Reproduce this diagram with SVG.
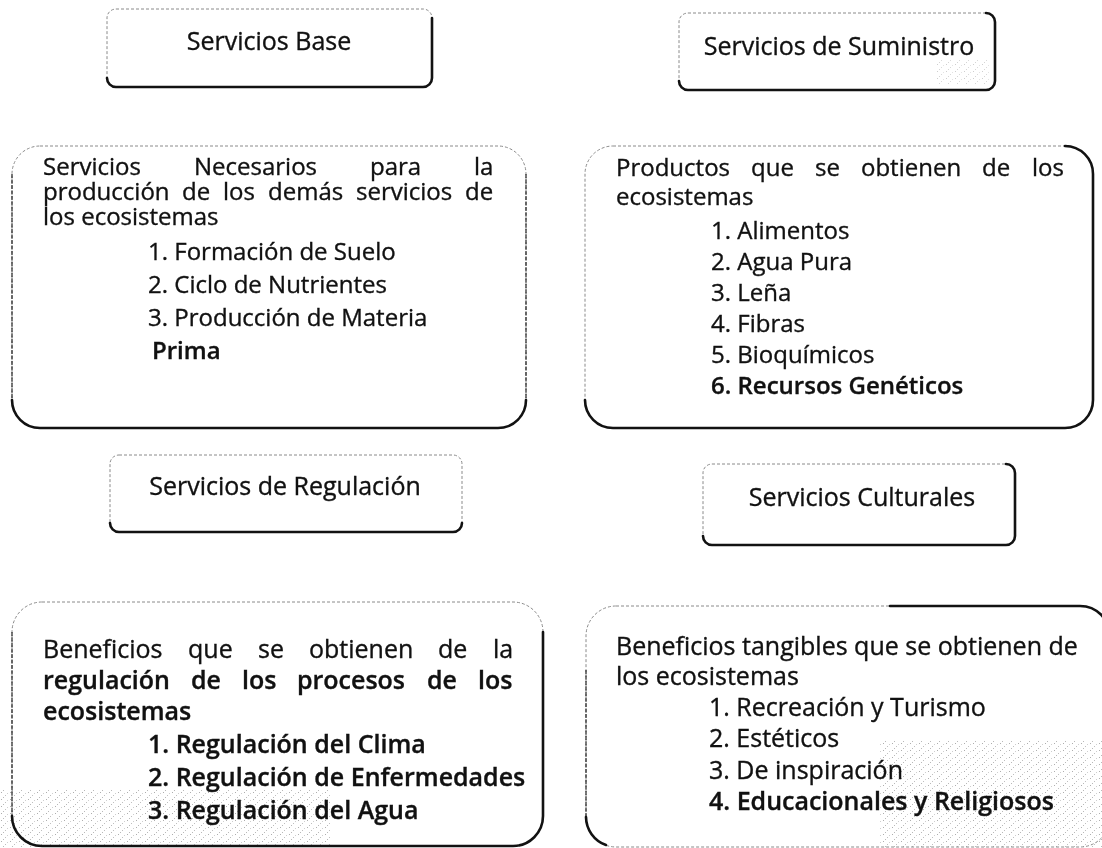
<svg xmlns="http://www.w3.org/2000/svg" width="1102" height="848" viewBox="0 0 1102 848">
<defs>
<style>
.t{font-family:"Open Sans","DejaVu Sans",sans-serif;fill:#111;stroke:#111;stroke-width:0.35}
.h{font-size:25px;text-anchor:middle}
.b{font-size:24px}
.b2{font-size:25px}
.sb{font-weight:600}
.frame{fill:none;stroke:#8a8a8a;stroke-width:1;stroke-dasharray:3 2}
.shadow{fill:none;stroke:#121212;stroke-width:2.6;stroke-linejoin:round;stroke-linecap:round}
.mid{fill:none;stroke:#333;stroke-width:1.3;stroke-dasharray:4 1.5}
</style>
<pattern id="speck" width="9" height="7" patternUnits="userSpaceOnUse">
<rect x="1" y="1" width="1" height="1" fill="#9a9a9a"/>
<rect x="5" y="4" width="1" height="1" fill="#b0b0b0"/>
<rect x="7" y="2" width="1" height="1" fill="#c4c4c4"/>
<rect x="3" y="6" width="1" height="1" fill="#a8a8a8"/>
</pattern>
</defs>
<rect width="1102" height="848" fill="#ffffff"/>
<g id="texture" opacity="0.8">
<rect x="0" y="790" width="330" height="58" fill="url(#speck)"/>
<rect x="880" y="740" width="222" height="108" fill="url(#speck)"/>
<rect x="935" y="60" width="55" height="25" fill="url(#speck)" opacity="0.6"/>
</g>
<g id="connectors"></g>

<g id="node-servicios-base">
<rect class="frame" x="107" y="9" width="325" height="78" rx="9"/>
<path class="shadow" d="M432,18 V78 A9 9 0 0 1 423,87 H116 A9 9 0 0 1 107,78"/>
<text class="t h" x="269" y="50">Servicios Base</text>
</g>

<g id="node-servicios-suministro">
<rect class="frame" x="679" y="13" width="316" height="77" rx="9"/>
<path class="shadow" d="M986,13 A9 9 0 0 1 995,22 V81 A9 9 0 0 1 986,90 H688 A9 9 0 0 1 679,81"/>
<text class="t h" x="839" y="55">Servicios de Suministro</text>
</g>

<g id="node-base-detalle">
<rect class="frame" x="12" y="146" width="514" height="282" rx="28" stroke="#b5b5b5"/>
<path class="mid" d="M12,174 V400"/>
<path class="mid" d="M526,174 V400"/>
<path class="shadow" d="M526,400 A28 28 0 0 1 498,428 H40 A28 28 0 0 1 12,400"/>
<text class="t b"><tspan x="43" y="175">Servicios</tspan><tspan x="194" y="175">Necesarios</tspan><tspan x="370" y="175">para</tspan><tspan x="474" y="175">la</tspan><tspan x="43" y="200">producción</tspan><tspan x="182" y="200">de</tspan><tspan x="223" y="200">los</tspan><tspan x="268" y="200">demás</tspan><tspan x="356" y="200">servicios</tspan><tspan x="465" y="200">de</tspan><tspan x="43" y="225">los ecosistemas</tspan><tspan x="148" y="260">1. Formación de Suelo</tspan><tspan x="148" y="293">2. Ciclo de Nutrientes</tspan><tspan x="148" y="326">3. Producción de Materia</tspan><tspan class="sb" x="152" y="359">Prima</tspan></text>
</g>

<g id="node-suministro-detalle">
<rect class="frame" x="585" y="146" width="508" height="282" rx="28" stroke-dasharray="1.5 3"/>
<path class="shadow" d="M1065,146 A28 28 0 0 1 1093,174 V400 A28 28 0 0 1 1065,428 H613 A28 28 0 0 1 585,400"/>
<text class="t b"><tspan x="616" y="176">Productos</tspan><tspan x="751" y="176">que</tspan><tspan x="815" y="176">se</tspan><tspan x="861" y="176">obtienen</tspan><tspan x="982" y="176">de</tspan><tspan x="1032" y="176">los</tspan><tspan x="616" y="205">ecosistemas</tspan><tspan x="711" y="239">1. Alimentos</tspan><tspan x="711" y="270">2. Agua Pura</tspan><tspan x="711" y="301">3. Leña</tspan><tspan x="711" y="332">4. Fibras</tspan><tspan x="711" y="363">5. Bioquímicos</tspan><tspan class="sb" x="711" y="394">6. Recursos Genéticos</tspan></text>
</g>

<g id="node-servicios-regulacion">
<rect class="frame" x="110" y="455" width="352" height="77" rx="9"/>
<path class="shadow" d="M462,523 A9 9 0 0 1 453,532 H119 A9 9 0 0 1 110,523"/>
<text class="t h" x="285" y="495">Servicios de Regulación</text>
</g>

<g id="node-servicios-culturales">
<rect class="frame" x="703" y="464" width="312" height="81" rx="9" stroke-dasharray="2 3"/>
<path class="shadow" d="M1006,464 A9 9 0 0 1 1015,473 V536 A9 9 0 0 1 1006,545 H712 A9 9 0 0 1 703,536"/>
<text class="t h" x="862" y="506">Servicios Culturales</text>
</g>

<g id="node-regulacion-detalle">
<rect class="frame" x="12" y="602" width="531" height="244" rx="30" stroke-dasharray="2 3"/>
<path class="mid" d="M12,632 V816"/>
<path class="shadow" d="M543,632 V816 A30 30 0 0 1 513,846 H42 A30 30 0 0 1 12,816"/>
<text class="t b2"><tspan x="43" y="658">Beneficios</tspan><tspan x="188" y="658">que</tspan><tspan x="258" y="658">se</tspan><tspan x="309" y="658">obtienen</tspan><tspan x="438" y="658">de</tspan><tspan x="493" y="658">la</tspan><tspan class="sb" x="43" y="689">regulación</tspan><tspan class="sb" x="191" y="689">de</tspan><tspan class="sb" x="242" y="689">los</tspan><tspan class="sb" x="297" y="689">procesos</tspan><tspan class="sb" x="427" y="689">de</tspan><tspan class="sb" x="478" y="689">los</tspan><tspan class="sb" x="43" y="720">ecosistemas</tspan><tspan class="sb" x="148" y="753">1. Regulación del Clima</tspan><tspan class="sb" x="148" y="786">2. Regulación de Enfermedades</tspan><tspan class="sb" x="148" y="819">3. Regulación del Agua</tspan></text>
</g>

<g id="node-culturales-detalle">
<rect class="frame" x="586" y="606" width="524" height="241" rx="30" stroke-dasharray="2 3"/>
<path class="mid" d="M586,670 V817"/>
<path class="shadow" d="M890,606 H1080 A30 30 0 0 1 1110,636" stroke-width="1.6"/>
<path class="shadow" d="M586,817 A30 30 0 0 0 606,845" stroke-width="1.6"/>
<text class="t b2"><tspan x="616" y="655">Beneficios tangibles que se obtienen de</tspan><tspan x="616" y="685">los ecosistemas</tspan><tspan x="709" y="716">1. Recreación y Turismo</tspan><tspan x="709" y="747">2. Estéticos</tspan><tspan x="709" y="779">3. De inspiración</tspan><tspan class="sb" x="709" y="810">4. Educacionales y Religiosos</tspan></text>
</g>
</svg>
